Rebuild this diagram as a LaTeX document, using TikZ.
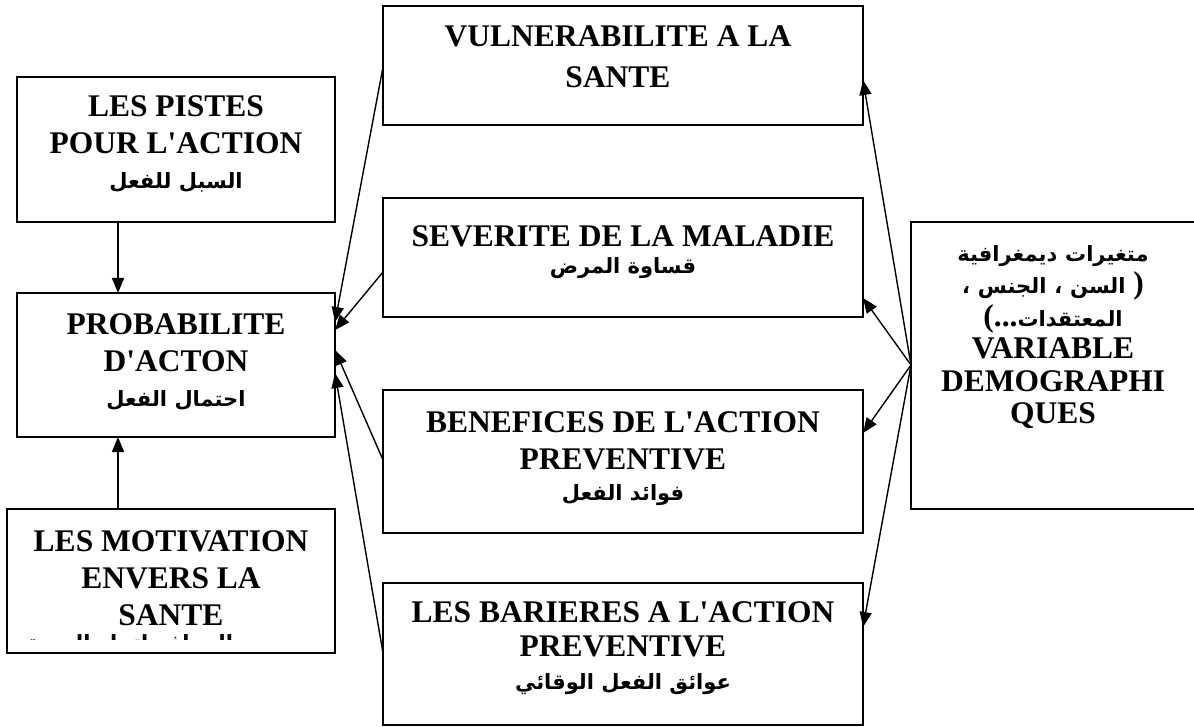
\documentclass[tikz,border=0pt]{standalone}
\usepackage{fontspec}
\setmainfont{Liberation Serif}[Ligatures=TeXOff]
\newfontfamily\arabicfont[Script=Arabic]{DejaVu Sans}
\TeXXeTstate=1
\usetikzlibrary{arrows.meta,calc}
% one right-to-left Arabic line
\newcommand\arline[1]{{\arabicfont\bfseries\fontsize{21}{30}\selectfont\beginR #1\endR}}
% a single Arabic word set as a box of its own
\newcommand\arword[1]{\mbox{\arabicfont\bfseries\fontsize{21}{30}\selectfont #1}}

\begin{document}
\begin{tikzpicture}[x=1pt,y=-1pt,
  box/.style={draw,line width=1.8pt,inner sep=0pt,outer sep=0pt},
  lbl/.style={align=center,inner sep=0pt,anchor=north,
    font=\bfseries\fontsize{31.5}{37}\selectfont},
  conn/.style={line width=1.4pt,-{Triangle[length=15pt,width=12pt]}}]
\useasboundingbox (0,0) rectangle (1194,727);
\clip (0,0) rectangle (1194,727);

% left column
\node[box,minimum width=318pt,minimum height=145pt] (pis)  at (176,149.5) {};
\node[box,minimum width=318pt,minimum height=144pt] (prob) at (176,365) {};
\node[box,minimum width=328pt,minimum height=144pt] (mot)  at (171,581) {};

% middle column
\node[box,minimum width=480pt,minimum height=119pt] (vul) at (623,65.5) {};
\node[box,minimum width=480pt,minimum height=119pt] (sev) at (623,257.5) {};
\node[box,minimum width=480pt,minimum height=143pt] (ben) at (623,461.5) {};
\node[box,minimum width=480pt,minimum height=142pt] (bar) at (623,654) {};

% right box, running past the page edge
\node[box,minimum width=285pt,minimum height=287pt] (demo) at (1053.5,365.5) {};

% texts
\node[lbl] (pistxt) at (176,95) {LES PISTES\\POUR L'ACTION\\[-2pt]\arline{السبل للفعل}};
\node[lbl] (probtxt) at (176,313) {PROBABILITE\\D'ACTON\\[-2pt]\arline{احتمال الفعل}};
\node[lbl] (mottxt) at (171,530) {LES MOTIVATION\\ENVERS LA\\SANTE};
\begin{scope}
  \clip (mot.north west) rectangle ($(mot.south east)+(0,-14)$);
  \node[anchor=base,inner sep=0pt] (motar) at (130,650) {\arline{الحوافز اتجاه الصحة}};
\end{scope}
\node[lbl] (vultxt) at (618,26) {VULNERABILITE A LA\\[4pt]SANTE};
\node[lbl] (sevtxt) at (623,225) {SEVERITE DE LA MALADIE\\[-10pt]\arline{قساوة المرض}};
\node[lbl] (bentxt) at (623,411) {BENEFICES DE L'ACTION\\PREVENTIVE\\[-6pt]\arline{فوائد الفعل}};
\node[lbl] (bartxt) at (623,601) {LES BARIERES A L'ACTION\\[-3pt]PREVENTIVE\\[-4pt]\arline{عوائق الفعل الوقائي}};
% right-to-left lines laid out word by word, left to right on the page
\node[lbl,font=\bfseries\fontsize{31.5}{32.5}\selectfont] (demotxt) at (1053,245)
  {\arword{ديمغرافية}\ \arword{متغيرات}\\
   \arword{،}\ \arword{الجنس}\ \arword{،}\ \arword{السن}\ \mbox{)}\\
   \mbox{(...}\arword{المعتقدات}\\
   VARIABLE\\DEMOGRAPHI\\QUES};

% vertical arrows into the probability box
\draw[conn] ($(pis.south west)+(101,0)$) -- ($(prob.north west)+(101,0)$);
\draw[conn] ($(mot.north west)+(111,0)$) -- ($(prob.south west)+(101,0)$);

% from the four factors to the probability box
\draw[conn] ($(vul.north west)+(0,61)$) -- ($(prob.north east)+(0,29)$);
\draw[conn] ($(sev.north west)+(0,74)$) -- ($(prob.north east)+(0,37)$);
\draw[conn] ($(ben.north west)+(0,70)$) -- ($(prob.north east)+(0,57)$);
\draw[conn] ($(bar.north west)+(0,70)$) -- ($(prob.north east)+(0,80)$);

% from the demographic variables to the four factors
\draw[conn] ($(demo.north west)+(0,143)$) -- ($(vul.north east)+(0,74)$);
\draw[conn] ($(demo.north west)+(0,143)$) -- ($(sev.north east)+(0,100)$);
\draw[conn] ($(demo.north west)+(0,143)$) -- ($(ben.north east)+(0,43)$);
\draw[conn] ($(demo.north west)+(0,143)$) -- ($(bar.north east)+(0,44)$);
\end{tikzpicture}
\end{document}
